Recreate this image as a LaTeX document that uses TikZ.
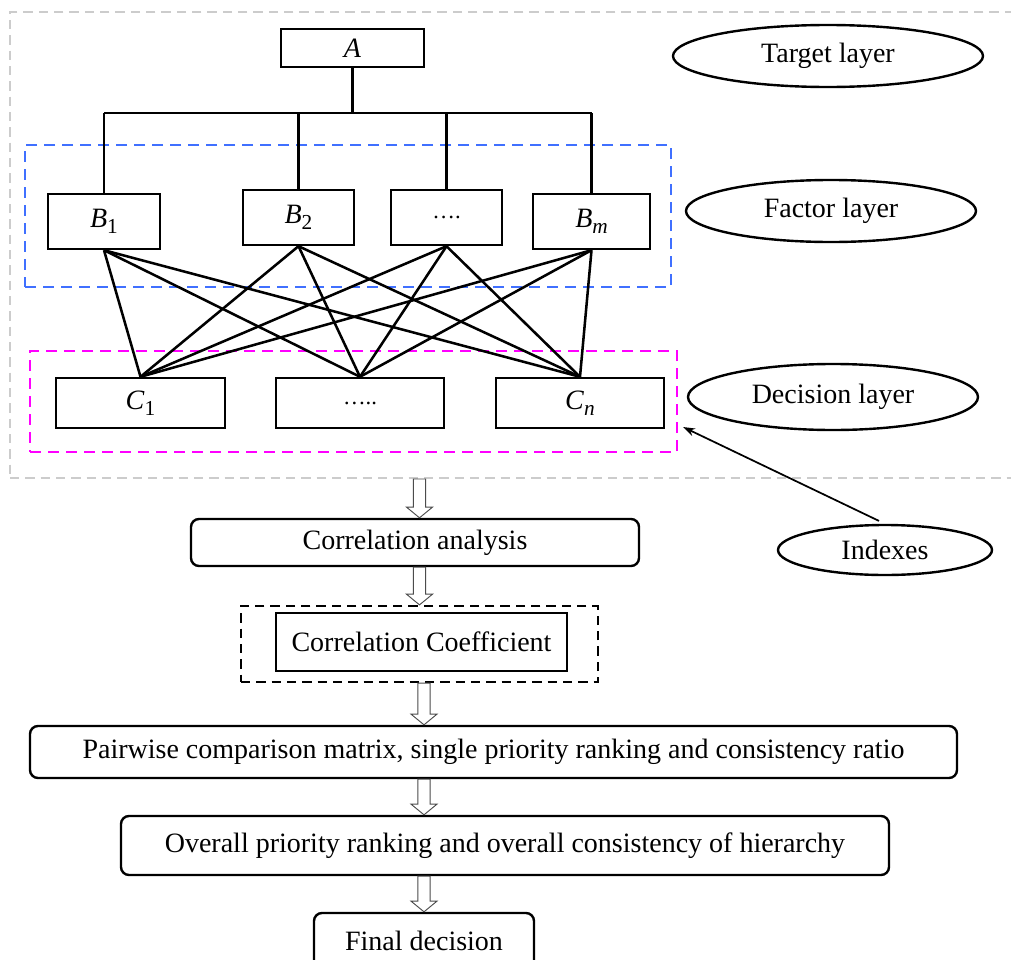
\documentclass[tikz,border=0pt]{standalone}
\usepackage{fontspec}
\setmainfont{Liberation Serif}
\usetikzlibrary{fit,shapes.geometric,arrows.meta,calc}
\newcommand\subs[1]{\raisebox{-4.5pt}{\fontsize{16}{16}\selectfont #1}}
\newcommand\harrow[2]{\draw[hollowarrow] let \p1=#1, \p2=#2 in (\x1-4.6pt,\y1) -- (\x1-4.6pt,\y2+8pt) -- (\x1-9.75pt,\y2+8pt) -- (\x1,\y2) -- (\x1+9.75pt,\y2+8pt) -- (\x1+4.6pt,\y2+8pt) -- (\x1+4.6pt,\y1) -- cycle;}
\begin{document}
\begin{tikzpicture}[x=0.75pt,y=-0.75pt,
  font=\fontsize{21}{25}\selectfont,
  box/.style={draw,line width=1.8pt,inner sep=0pt},
  rbox/.style={draw,line width=1.8pt,inner sep=0pt,rounded corners=6pt},
  ell/.style={draw,ellipse,line width=1.8pt,inner sep=0pt},
  conn/.style={line width=1.9pt},
  grayframe/.style={draw=gray!40,line width=1.5pt,dash pattern=on 7pt off 4.5pt,inner sep=0pt},
  blueframe/.style={draw={rgb,255:red,64;green,112;blue,255},line width=1.7pt,dash pattern=on 8.5pt off 5pt,inner sep=0pt},
  magframe/.style={draw={rgb,255:red,255;green,0;blue,255},line width=1.7pt,dash pattern=on 8.5pt off 5pt,inner sep=0pt},
  blackframe/.style={draw=black,line width=1.7pt,dash pattern=on 7pt off 4.5pt,inner sep=0pt},
  hollowarrow/.style={draw=gray!60!black,fill=white,line width=0.7pt},
]
\clip (0,0) rectangle (1011,960);
\fill[white] (0,0) rectangle (1011,960);

% frames
\node[grayframe, fit={(10,12) (1015,478)}] (gray) {};
\node[blueframe, fit={(25,145) (671,287)}] (blue) {};
\node[magframe, fit={(30,351) (677,452)}] (mag) {};

% hierarchy
\node[box, minimum width=107.25pt, minimum height=28.5pt] (A) at (352.5,48) {\textit{A}};
\node[box, minimum width=84pt, minimum height=41.25pt] (B1) at (104,221.5) {\textit{B}\subs{1}};
\node[box, minimum width=83.25pt, minimum height=41.25pt] (B2) at (298.5,217.5) {\textit{B}\subs{2}};
\node[box, minimum width=83.25pt, minimum height=41.25pt] (Bd) at (446.5,217.5) {\fontsize{17}{17}\selectfont ….};
\node[box, minimum width=87.75pt, minimum height=41.25pt] (Bm) at (591.5,221.5) {\textit{B}\subs{\textit{m}}};
\node[box, minimum width=126.75pt, minimum height=37.5pt] (C1) at (140.5,403) {\textit{C}\subs{1}};
\node[box, minimum width=126pt, minimum height=37.5pt] (Cd) at (360,403) {\fontsize{17}{17}\selectfont …..};
\node[box, minimum width=126pt, minimum height=37.5pt] (Cn) at (580,403) {\textit{C}\subs{\textit{n}}};

\coordinate (bar) at (0,113);
\draw[conn] (A.south) -- (A.south |- bar);
\draw[conn] (B1.north |- bar) -- (Bm.north |- bar);
\foreach \b in {B1,B2,Bd,Bm} \draw[conn] (\b.north |- bar) -- (\b.north);
\foreach \b in {B1,B2,Bd,Bm}
  \foreach \c in {C1,Cd,Cn}
    \draw[conn] (\b.south) -- (\c.north);

% layer labels
\node[ell, minimum width=232.5pt, minimum height=46.5pt] (tl) at (828,56) {Target layer};
\node[ell, minimum width=217.5pt, minimum height=46.5pt] (fl) at (831,211) {Factor layer};
\node[ell, minimum width=217.5pt, minimum height=49.5pt] (dl) at (833,397) {Decision layer};
\node[ell, minimum width=160.5pt, minimum height=37.5pt] (idx) at (885,550) {Indexes};
\coordinate (idxtip) at (683,427);
\draw[line width=1.3pt, -{Stealth[length=9pt,width=6pt]}, shorten <=5pt] (idx.north) -- (idxtip);

% process
\node[rbox, minimum width=336pt, minimum height=35.25pt] (ca) at (415,542.5) {Correlation analysis};
\node[blackframe, fit={(241,606) (598,682)}] (ccd) {};
\node[box, line width=2pt, minimum width=218.25pt, minimum height=43.5pt] (cc) at (421.5,642) {Correlation Coefficient};
\node[rbox, minimum width=695.25pt, minimum height=39pt] (pw) at (493.5,752) {Pairwise comparison matrix, single priority ranking and consistency ratio};
\node[rbox, minimum width=576pt, minimum height=44.25pt] (ov) at (505,845.5) {Overall priority ranking and overall consistency of hierarchy};
\node[rbox, minimum width=165pt, minimum height=41.25pt] (fd) at (424,940.5) {Final decision};

\harrow{(ccd.north |- gray.south)}{(ccd.north |- ca.north)}
\harrow{(ccd.north |- ca.south)}{(ccd.north)}
\harrow{(fd.north |- ccd.south)}{(fd.north |- pw.north)}
\harrow{(fd.north |- pw.south)}{(fd.north |- ov.north)}
\harrow{(fd.north |- ov.south)}{(fd.north)}
\end{tikzpicture}
\end{document}
